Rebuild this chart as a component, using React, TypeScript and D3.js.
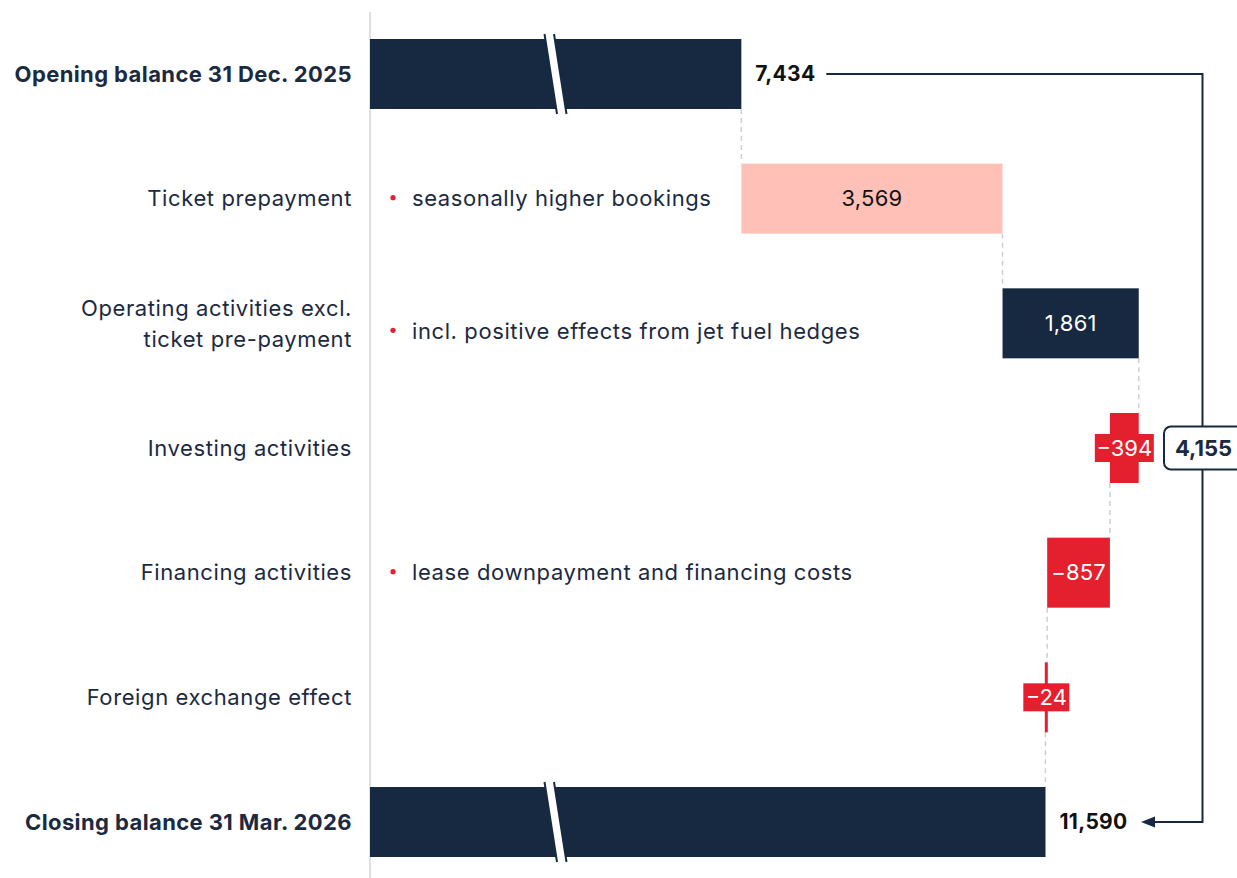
import React from "react";
import * as d3 from "d3";

const categories = [
  "Opening balance 31 Dec. 2025",
  "Ticket prepayment",
  "Operating activities excl.|ticket pre-payment",
  "Investing activities",
  "Financing activities",
  "Foreign exchange effect",
  "Closing balance 31 Mar. 2026",
];
const values = [7434, 3569, 1861, -394, -857, -24, 11590];
const kinds = ["total", "ticket", "pos", "neg", "neg", "neg", "total"];
const annotations = [
  "",
  "seasonally higher bookings",
  "incl. positive effects from jet fuel hedges",
  "",
  "lease downpayment and financing costs",
  "",
  "",
];
const totalChange = 4155;
const brokenAxisStart = 2360;

const NAVY = "#172841";
const PINK = "#FFC0B8";
const RED = "#E4202E";
const TEXT = "#1B2A41";
const FONT = "Inter, 'Noto Sans', sans-serif";

const fmt = (v: number) => {
  const s = d3.format(",")(Math.abs(v));
  return v < 0 ? "\u2212" + s : s;
};

export default function App() {
  const W = 1237;
  const H = 878;
  const x = d3.scaleLinear().domain([brokenAxisStart, values[6]]).range([370, 1045.5]);
  const y = d3.scalePoint<string>().domain(categories).range([74, 822]);
  const barH = 70;

  let cum = 0;
  const segs = values.map((v, i) => {
    let x0: number, x1: number;
    if (kinds[i] === "total") {
      x0 = brokenAxisStart;
      x1 = v;
      cum = v;
    } else {
      x0 = cum;
      x1 = cum + v;
      cum = x1;
    }
    return { i, v, x0, x1, end: kinds[i] === "total" ? v : cum };
  });

  const elems: React.ReactNode[] = [];

  elems.push(<line key="axis" x1={370} x2={370} y1={12} y2={H} stroke="#d4d4d4" strokeWidth={1.5} />);

  segs.forEach((s, i) => {
    if (i === segs.length - 1) return;
    const cx = x(s.end);
    const yTop = (y(categories[i]) as number) + barH / 2;
    const yBot = (y(categories[i + 1]) as number) - barH / 2;
    elems.push(
      <line key={"c" + i} x1={cx} x2={cx} y1={yTop} y2={yBot} stroke="#cfcfcf" strokeWidth={1.5} strokeDasharray="5,4" />
    );
  });

  segs.forEach((s, i) => {
    const cy = y(categories[i]) as number;
    let a = x(Math.min(s.x0, s.x1));
    let b = x(Math.max(s.x0, s.x1));
    if (b - a < 3) {
      const m = (a + b) / 2;
      a = m - 1.5;
      b = m + 1.5;
    }
    const kind = kinds[i];
    const fill = kind === "total" ? NAVY : kind === "ticket" ? PINK : kind === "pos" ? NAVY : RED;
    elems.push(<rect key={"b" + i} x={a} y={cy - barH / 2} width={b - a} height={barH} fill={fill} />);

    if (kind === "total") {
      const bx = 544.5;
      const gap = 9.5;
      const t = cy - barH / 2 - 5;
      const bt = cy + barH / 2 + 5;
      const sl = 12.5;
      elems.push(
        <g key={"brk" + i}>
          <polygon points={`${bx},${t} ${bx + gap},${t} ${bx + gap + sl},${bt} ${bx + sl},${bt}`} fill="#fff" />
          <line x1={bx} y1={t} x2={bx + sl} y2={bt} stroke={NAVY} strokeWidth={2} />
          <line x1={bx + gap} y1={t} x2={bx + gap + sl} y2={bt} stroke={NAVY} strokeWidth={2} />
        </g>
      );
      elems.push(
        <text key={"v" + i} x={b + 14} y={cy} dy="0.35em" fontFamily={FONT} fontWeight={700} fontSize={21} letterSpacing={0.3} fill="#111">
          {fmt(s.v)}
        </text>
      );
    } else if (kind === "neg" && b - a < 50) {
      const label = fmt(s.v);
      const w = label.length * 13 + 7;
      const m = (a + b) / 2;
      elems.push(<rect key={"lb" + i} x={m - w / 2} y={cy - 14} width={w} height={28} fill={RED} />);
      elems.push(
        <text key={"v" + i} x={m} y={cy} dy="0.35em" textAnchor="middle" fontFamily={FONT} fontSize={22} fill="#fff">
          {label}
        </text>
      );
    } else {
      elems.push(
        <text
          key={"v" + i}
          x={(a + b) / 2}
          y={cy}
          dy="0.35em"
          textAnchor="middle"
          fontFamily={FONT}
          fontSize={22}
          letterSpacing={0.2}
          fill={kind === "ticket" ? "#111" : "#fff"}
        >
          {fmt(s.v)}
        </text>
      );
    }

    const lines = categories[i].split("|");
    const bold = kind === "total";
    elems.push(
      <text
        key={"l" + i}
        x={352}
        y={cy - ((lines.length - 1) * 31) / 2}
        textAnchor="end"
        fontFamily={FONT}
        fontSize={22}
        fontWeight={bold ? 700 : 400}
        letterSpacing={bold ? 0.4 : 0.6}
        fill={TEXT}
      >
        {lines.map((ln, k) => (
          <tspan key={k} x={352} dy={k === 0 ? "0.35em" : 31}>
            {ln}
          </tspan>
        ))}
      </text>
    );

    if (annotations[i]) {
      const ay = cy + (lines.length > 1 ? 8 : 0);
      elems.push(<circle key={"d" + i} cx={393} cy={ay - 1} r={2.6} fill={RED} />);
      elems.push(
        <text key={"a" + i} x={412} y={ay} dy="0.35em" fontFamily={FONT} fontSize={22} letterSpacing={0.6} fill={TEXT}>
          {annotations[i]}
        </text>
      );
    }
  });

  const yOpen = y(categories[0]) as number;
  const yClose = y(categories[6]) as number;
  const yMid = y(categories[3]) as number;
  const bxr = 1202.5;
  elems.push(
    <path
      key="bracket"
      d={`M${x(values[0]) + 85},${yOpen} H${bxr} V${yClose} H${1152}`}
      fill="none"
      stroke={NAVY}
      strokeWidth={2}
    />
  );
  elems.push(
    <polygon key="arrow" points={`${1141},${yClose} ${1155},${yClose - 5.5} ${1155},${yClose + 5.5}`} fill={NAVY} />
  );
  elems.push(
    <rect key="tbox" x={1164} y={yMid - 21.5} width={80} height={43} rx={7} fill="#fff" stroke={NAVY} strokeWidth={2} />
  );
  elems.push(
    <text key="ttxt" x={bxr + 1} y={yMid} dy="0.35em" textAnchor="middle" fontFamily={FONT} fontWeight={700} fontSize={22} fill={TEXT}>
      {d3.format(",")(totalChange)}
    </text>
  );

  return (
    <svg width={W} height={H} style={{ position: "absolute", left: 0, top: 0, background: "#fff" }}>
      {elems}
    </svg>
  );
}
